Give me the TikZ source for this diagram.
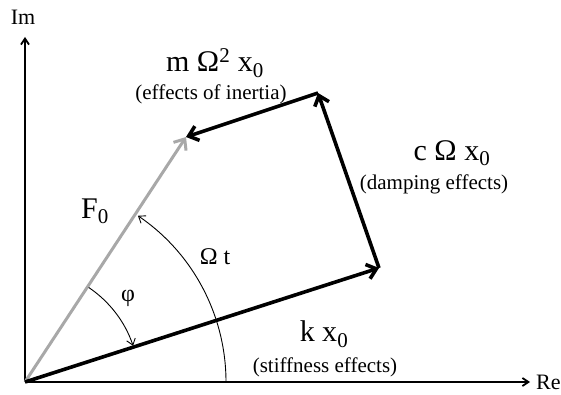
\documentclass[tikz,border=0pt]{standalone}
\usepackage{fontspec}
\setmainfont{Liberation Serif}
\usetikzlibrary{arrows.meta}
\definecolor{force}{HTML}{A8A8A8}

\begin{document}
\begin{tikzpicture}[x=1pt,y=1pt,>={Straight Barb[length=6pt,width=8pt]},
  vec/.style={line width=3.6pt,->,>={Straight Barb[length=9pt,width=15pt]}},
  big/.style={font=\fontsize{30}{32}\selectfont,inner sep=0pt},
  small/.style={font=\fontsize{21}{24}\selectfont,inner sep=0pt}]
\useasboundingbox (-25,-12) rectangle (536,382);
\coordinate (O) at (0,0);
\coordinate (K) at (354,114);
\coordinate (C) at (293,289);
\coordinate (F) at (161,245);
\coordinate (Rex) at (505,0);
\coordinate (Imy) at (0,345);
% axes
\draw[line width=1.8pt,->] (O)--(Rex); \draw[line width=1.8pt,->] (O)--(Imy);
\node[font=\fontsize{22}{24}\selectfont,anchor=west,inner sep=0pt] (re) at (511,0) {Re};
\node[font=\fontsize{22}{24}\selectfont] (im) at (-2,365) {Im};
% excitation and the three force vectors
\draw[force,line width=3pt,->,>={Straight Barb[length=9pt,width=15pt]}] (O)--(F);
\draw[vec] (O)--(K); \draw[vec] (K)--(C); \draw[vec] (C)--(F);
% angles
\draw[line width=0.9pt,->,>={Straight Barb[length=6pt,width=9pt]}] (201,0) arc[start angle=0,end angle=55.8,radius=201];
\draw[line width=0.9pt,->,>={Straight Barb[length=6pt,width=9pt]}] (56:114) arc[start angle=56,end angle=18.5,radius=114];
% labels
\node[big] (inertia) at (190,319) {m Ω\textsuperscript{2} x\textsubscript{0}};
\node[small] (inertiatxt) at (186,288) {(effects of inertia)};
\node[big] (damping) at (427,229) {c Ω x\textsubscript{0}};
\node[small] (dampingtxt) at (409,198) {(damping effects)};
\node[big] (stiff) at (299,48) {k x\textsubscript{0}};
\node[small] (stifftxt) at (300,15) {(stiffness effects)};
\node[big] (force) at (70,171) {F\textsubscript{0}};
\node[font=\fontsize{24}{26}\selectfont] (omt) at (190,125) {Ω t};
\node[font=\fontsize{24}{26}\selectfont] (phi) at (103,84) {φ};
\end{tikzpicture}
\end{document}
